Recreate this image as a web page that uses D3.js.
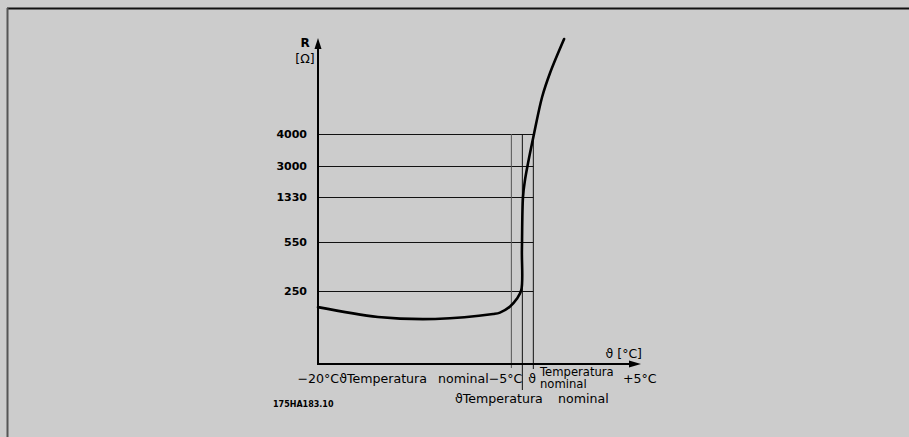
<!DOCTYPE html>
<html>
<head>
<meta charset="utf-8">
<script src="https://cdn.jsdelivr.net/npm/d3@7"></script>
<style>
  html, body { margin: 0; padding: 0; background: #cccccc; }
  svg { display: block; }
  text { font-family: "DejaVu Sans", sans-serif; fill: #000; }
</style>
</head>
<body>
<svg id="chart"></svg>
<script>
// temperature relative to nominal (°C), resistance (Ω)
const curveTemp = [-93, -65.7, -39.7, -13.3, -10.2, -5.6, -2.6, -0.5, -0.2, 0.3, 1.2, 2.6, 5.3, 9.0, 12.6, 19.0]
const curveRes = [194, 160, 153, 170, 175, 196, 222, 255, 501, 1330, 2246, 3094, 4000, 5542, 6542, 7958]
const resTicks = [250, 550, 1330, 3000, 4000]
const tempMarks = [-5, 0, 5]

const width = 909
const height = 437

const svg = d3.select('#chart')
  .attr('width', width)
  .attr('height', height)

// frame
svg.append('line').attr('x1', 7).attr('x2', width + 5).attr('y1', 8.5).attr('y2', 8.5)
  .attr('stroke', '#111').attr('stroke-width', 2)
svg.append('line').attr('x1', 7.5).attr('x2', 7.5).attr('y1', 8).attr('y2', height + 5)
  .attr('stroke', '#555').attr('stroke-width', 2)

// scales (schematic, non-linear resistance axis)
const xScale = d3.scaleLinear()
  .domain([-93, 54])
  .range([318, 641])
const yScale = d3.scaleLinear()
  .domain([0, 250, 550, 1330, 3000, 4000, 8000])
  .range([363, 291, 242, 197, 166, 134, 38])

const x0 = xScale(-93)
const y0 = yScale(0)

// horizontal grid + tick labels
const yAxis = svg.append('g')
  .attr('transform', `translate(${x0},0)`)
  .call(d3.axisLeft(yScale)
    .tickValues(resTicks)
    .tickSizeInner(-(xScale(5) - x0))
    .tickSizeOuter(0)
    .tickPadding(11)
    .tickFormat(d3.format('d')))
yAxis.select('.domain').remove()
yAxis.selectAll('.tick line').attr('stroke', '#111').attr('stroke-width', 1)
yAxis.selectAll('.tick text')
  .style('font-family', '"DejaVu Sans", sans-serif')
  .style('font-weight', 'bold')
  .style('font-size', '11px')
  .attr('fill', '#000')

// vertical marker lines
const markBottom = [y0 + 5, y0 + 27, y0 + 6]
svg.selectAll('.mark')
  .data(tempMarks)
  .enter()
  .append('line')
  .attr('class', 'mark')
  .attr('x1', d => xScale(d))
  .attr('x2', d => xScale(d))
  .attr('y1', yScale(4000))
  .attr('y2', (d, i) => markBottom[i])
  .attr('stroke', (d, i) => i === 0 ? '#555' : '#111')
  .attr('stroke-width', 1)

// axes with arrows
svg.append('line')
  .attr('x1', x0).attr('x2', x0)
  .attr('y1', y0 + 1).attr('y2', yScale(8000) + 6)
  .attr('stroke', '#000').attr('stroke-width', 2)
svg.append('path')
  .attr('d', `M${x0},${yScale(8000)} L${x0 - 3.5},${yScale(8000) + 11} L${x0 + 3.5},${yScale(8000) + 11} Z`)
  .attr('fill', '#000')
svg.append('line')
  .attr('x1', x0 - 1).attr('x2', xScale(54) - 6)
  .attr('y1', y0 + 1).attr('y2', y0 + 1)
  .attr('stroke', '#000').attr('stroke-width', 2)
svg.append('path')
  .attr('d', `M${xScale(54)},${y0 + 1} L${xScale(54) - 12},${y0 - 2.5} L${xScale(54) - 12},${y0 + 4.5} Z`)
  .attr('fill', '#000')

// resistance curve
const line = d3.line()
  .x(d => xScale(d[0]))
  .y(d => yScale(d[1]))
  .curve(d3.curveCatmullRom.alpha(0.5))
svg.append('path')
  .datum(d3.zip(curveTemp, curveRes))
  .attr('d', line)
  .attr('fill', 'none')
  .attr('stroke', '#000')
  .attr('stroke-width', 2.6)
  .attr('stroke-linecap', 'round')

// axis titles
svg.append('text').attr('x', 305).attr('y', 47).attr('text-anchor', 'middle')
  .attr('fill', '#000').style('font-size', '12px').style('font-weight', 'bold').text('R')
svg.append('text').attr('x', 305).attr('y', 63).attr('text-anchor', 'middle')
  .attr('fill', '#000').style('font-size', '12.5px').text('[Ω]')
svg.append('text').attr('x', 642).attr('y', 358).attr('text-anchor', 'end')
  .attr('fill', '#000').style('font-size', '12.5px').text('ϑ [°C]')

// x labels
const xLabel = (x, y, s, anchor, size) => svg.append('text')
  .attr('x', x).attr('y', y)
  .attr('text-anchor', anchor || 'start')
  .attr('fill', '#000')
  .style('font-size', (size || 12.6) + 'px')
  .text(s)
xLabel(427, 383, '−20°CϑTemperatura', 'end')
xLabel(438, 383, 'nominal−5°C')
xLabel(455, 403, 'ϑTemperatura')
xLabel(558, 403, 'nominal')
xLabel(xScale(5) - 5, 383, 'ϑ')
xLabel(540, 376, 'Temperatura', 'start', 11.6)
xLabel(540, 388, 'nominal', 'start', 11.6)
xLabel(623, 383, '+5°C')

// drawing code
svg.append('text').attr('x', 273).attr('y', 407)
  .attr('fill', '#000').style('font-size', '8px').style('font-weight', 'bold').text('175HA183.10')
</script>
</body>
</html>
